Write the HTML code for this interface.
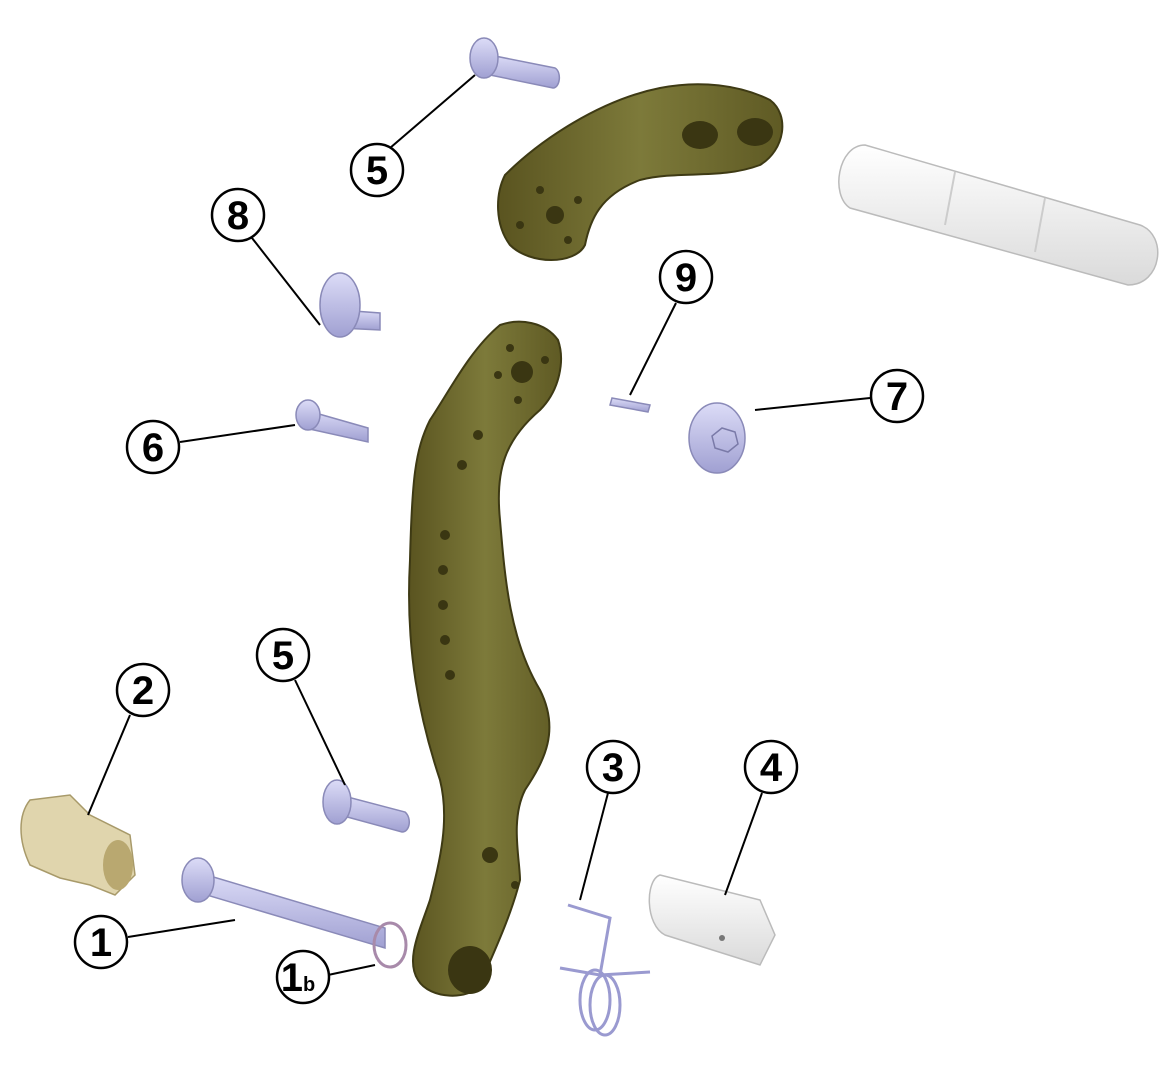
<!DOCTYPE html>
<html><head><meta charset="utf-8"><style>
html,body{margin:0;padding:0;background:#fff;}
svg{display:block;}
text{font-family:"Liberation Sans",sans-serif;font-size:40px;font-weight:bold;fill:#000;}
</style></head><body>
<svg width="1165" height="1079" viewBox="0 0 1165 1079" xmlns="http://www.w3.org/2000/svg">
<defs>
<linearGradient id="ol" x1="0" y1="0" x2="1" y2="0"><stop offset="0" stop-color="#5a5420"/><stop offset="0.5" stop-color="#7d7a3a"/><stop offset="1" stop-color="#5f5a24"/></linearGradient>
<linearGradient id="lv" x1="0" y1="0" x2="0" y2="1"><stop offset="0" stop-color="#dcdcf7"/><stop offset="1" stop-color="#a0a0d2"/></linearGradient>
<linearGradient id="wh" x1="0" y1="0" x2="0" y2="1"><stop offset="0" stop-color="#ffffff"/><stop offset="1" stop-color="#dadada"/></linearGradient>
</defs>

<!-- upper arm -->
<path d="M505,175 C540,140 600,100 660,88 C700,80 740,85 770,100 C790,115 785,150 760,165 C720,180 680,170 640,180 C600,195 590,220 585,245 C575,265 530,265 510,245 C495,225 495,195 505,175 Z" fill="url(#ol)" stroke="#3e3a14" stroke-width="2"/>
<ellipse cx="700" cy="135" rx="18" ry="14" fill="#3a3612"/>
<ellipse cx="755" cy="132" rx="18" ry="14" fill="#3a3612"/>
<circle cx="555" cy="215" r="9" fill="#3a3612"/>
<circle cx="540" cy="190" r="4" fill="#3a3612"/><circle cx="568" cy="240" r="4" fill="#3a3612"/><circle cx="578" cy="200" r="4" fill="#3a3612"/><circle cx="520" cy="225" r="4" fill="#3a3612"/>

<!-- long arm -->
<path d="M500,325 C520,318 545,322 558,340 C565,360 560,390 540,410 C505,440 495,470 500,520 C505,580 510,640 540,690 C560,730 545,760 525,790 C510,820 520,860 520,880 C510,920 490,960 480,985 C470,1000 430,1000 418,980 C405,960 420,930 430,900 C440,860 450,820 440,780 C420,720 405,650 410,560 C412,480 415,450 430,420 C450,390 470,350 500,325 Z" fill="url(#ol)" stroke="#3e3a14" stroke-width="2"/>
<circle cx="522" cy="372" r="11" fill="#3a3612"/>
<g fill="#3a3612"><circle cx="510" cy="348" r="4"/><circle cx="545" cy="360" r="4"/><circle cx="518" cy="400" r="4"/><circle cx="498" cy="375" r="4"/>
<circle cx="478" cy="435" r="5"/><circle cx="462" cy="465" r="5"/><circle cx="445" cy="535" r="5"/><circle cx="443" cy="570" r="5"/><circle cx="443" cy="605" r="5"/><circle cx="445" cy="640" r="5"/><circle cx="450" cy="675" r="5"/><circle cx="490" cy="855" r="8"/><circle cx="515" cy="885" r="4"/></g>
<ellipse cx="470" cy="970" rx="22" ry="24" fill="#3a3612"/>

<!-- white pin -->
<path d="M865,145 L1140,225 C1168,235 1162,285 1128,285 L850,208 C830,195 838,145 865,145 Z" fill="url(#wh)" stroke="#bbb" stroke-width="1.5"/>
<line x1="955" y1="172" x2="945" y2="225" stroke="#ccc" stroke-width="2"/>
<line x1="1045" y1="198" x2="1035" y2="252" stroke="#ccc" stroke-width="2"/>

<!-- part 4 white block -->
<path d="M660,875 L760,900 L775,935 L760,965 L665,935 C645,925 645,880 660,875 Z" fill="url(#wh)" stroke="#bbb" stroke-width="1.5"/>
<circle cx="722" cy="938" r="3" fill="#777"/>

<!-- bushing 2 -->
<path d="M30,800 L70,795 L90,815 L130,835 L135,875 L115,895 L90,885 L60,878 L30,865 C18,840 18,815 30,800 Z" fill="#e0d5ad" stroke="#a89a6a" stroke-width="1.5"/>
<ellipse cx="118" cy="865" rx="15" ry="25" fill="#b9a870"/>

<!-- lavender parts -->
<g fill="url(#lv)" stroke="#8a8ab8" stroke-width="1.5">
<path d="M490,55 L555,68 C562,72 560,88 553,88 L490,75 Z"/><ellipse cx="484" cy="58" rx="14" ry="20"/>
<path d="M340,310 L380,313 L380,330 L340,328 Z"/><ellipse cx="340" cy="305" rx="20" ry="32"/>
<path d="M305,410 L368,428 L368,442 L305,428 Z"/><ellipse cx="308" cy="415" rx="12" ry="15"/>
<ellipse cx="717" cy="438" rx="28" ry="35"/>
<path d="M340,795 L405,812 C412,818 410,832 402,832 L340,815 Z"/><ellipse cx="337" cy="802" rx="14" ry="22"/>
<path d="M200,873 L385,928 L385,948 L200,893 Z"/><ellipse cx="198" cy="880" rx="16" ry="22"/>
<path d="M612,398 L650,405 L648,412 L610,405 Z"/>
</g>
<polygon points="722,428 735,432 738,444 728,452 715,448 712,436" fill="none" stroke="#7a7aa8" stroke-width="1.5"/>
<!-- clip 1b -->
<ellipse cx="390" cy="945" rx="16" ry="22" fill="none" stroke="#a88aaa" stroke-width="3"/>
<!-- spring 3 -->
<g fill="none" stroke="#9a9ad0" stroke-width="3">
<path d="M568,905 L610,918 L600,975 L560,968"/><path d="M600,975 L650,972"/>
<ellipse cx="605" cy="1005" rx="15" ry="30"/><ellipse cx="595" cy="1000" rx="15" ry="30"/>
</g>

<!-- leader lines -->
<g stroke="#000" stroke-width="2">
<line x1="390" y1="148" x2="475" y2="75"/>
<line x1="252" y1="238" x2="320" y2="325"/>
<line x1="180" y1="442" x2="295" y2="425"/>
<line x1="676" y1="303" x2="630" y2="395"/>
<line x1="870" y1="398" x2="755" y2="410"/>
<line x1="295" y1="680" x2="345" y2="785"/>
<line x1="130" y1="715" x2="88" y2="815"/>
<line x1="608" y1="793" x2="580" y2="900"/>
<line x1="762" y1="793" x2="725" y2="895"/>
<line x1="128" y1="937" x2="235" y2="920"/>
<line x1="328" y1="975" x2="375" y2="965"/>
</g>
<!-- callouts -->
<g fill="#fff" stroke="#000" stroke-width="2.5">
<circle cx="377" cy="170" r="26"/><circle cx="238" cy="215" r="26"/><circle cx="153" cy="447" r="26"/>
<circle cx="686" cy="277" r="26"/><circle cx="897" cy="396" r="26"/><circle cx="283" cy="655" r="26"/>
<circle cx="143" cy="690" r="26"/><circle cx="613" cy="767" r="26"/><circle cx="771" cy="767" r="26"/>
<circle cx="101" cy="942" r="26"/><circle cx="303" cy="977" r="26"/>
</g>
<g text-anchor="middle">
<text x="377" y="184">5</text><text x="238" y="229">8</text><text x="153" y="461">6</text>
<text x="686" y="291">9</text><text x="897" y="410">7</text><text x="283" y="669">5</text>
<text x="143" y="704">2</text><text x="613" y="781">3</text><text x="771" y="781">4</text>
<text x="101" y="956">1</text><text x="298" y="991">1<tspan font-size="20">b</tspan></text>
</g>
</svg>
</body></html>
